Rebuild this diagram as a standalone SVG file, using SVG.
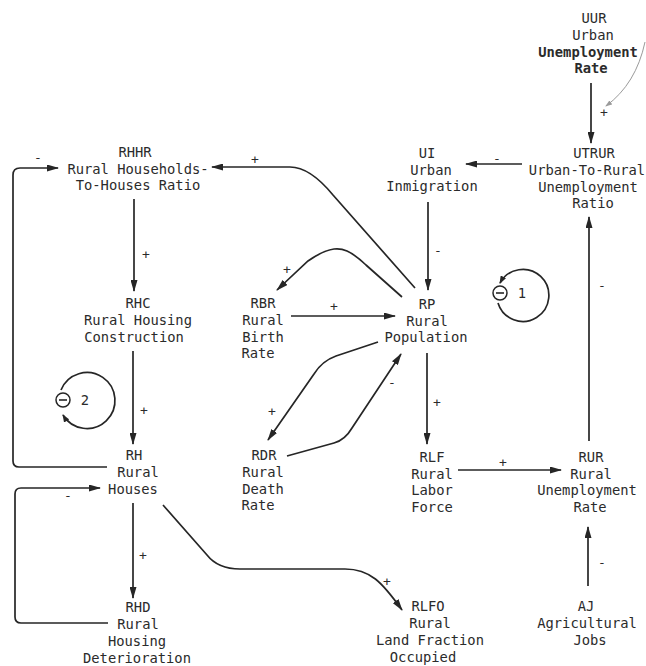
<svg xmlns="http://www.w3.org/2000/svg" width="646" height="666" viewBox="0 0 646 666">
<defs>
<style>
text{font-family:"DejaVu Sans Mono","Liberation Mono",monospace;font-size:13.8px;fill:#2b2b2b}
.lbl{font-size:13px}
.c{fill:none;stroke:#262626;stroke-width:1.7}
.g{fill:none;stroke:#9a9a9a;stroke-width:1}
.b{font-weight:bold}
</style>
<marker id="a" markerUnits="userSpaceOnUse" markerWidth="12" markerHeight="7" refX="11" refY="3.5" orient="auto"><path d="M0,0 L12,3.5 L0,7 z" fill="#262626"/></marker>
<marker id="s" markerUnits="userSpaceOnUse" markerWidth="8" markerHeight="6" refX="7" refY="3" orient="auto"><path d="M0,0 L8,3 L0,6 z" fill="#262626"/></marker>
<marker id="ga" markerUnits="userSpaceOnUse" markerWidth="7" markerHeight="5" refX="6" refY="2.5" orient="auto"><path d="M0,0 L7,2.5 L0,5 z" fill="#9a9a9a"/></marker>
</defs>
<rect width="646" height="666" fill="#ffffff"/>

<g id="connectors">
<path class="c" d="M591,83 L591,143" marker-end="url(#a)"/>
<path class="g" d="M645,42 Q636,84 606,106" marker-end="url(#ga)"/>
<path class="c" d="M522,164 L466,164" marker-end="url(#a)"/>
<path class="c" d="M428,202 L428,290" marker-end="url(#a)"/>
<path class="c" d="M415,288 L333,195 Q310,167 290,167 L212,167" marker-end="url(#a)"/>
<path class="c" d="M402,297 L366,265 C350,250 342,248 334,249 C326,250 318,254 308,261 L277,290" marker-end="url(#a)"/>
<path class="c" d="M291,316 L395,316" marker-end="url(#a)"/>
<path class="c" d="M378,342 L336,356 Q322,361 314,374 L268,440" marker-end="url(#a)"/>
<path class="c" d="M287,456 L334,443 Q345,440 352,428 L401,354" marker-end="url(#a)"/>
<path class="c" d="M427,353 L427,444" marker-end="url(#a)"/>
<path class="c" d="M458,470 L561,470" marker-end="url(#a)"/>
<path class="c" d="M588,586 L588,527" marker-end="url(#a)"/>
<path class="c" d="M589,441 L589,217" marker-end="url(#a)"/>
<path class="c" d="M134,199 L134,291" marker-end="url(#a)"/>
<path class="c" d="M133,351 L133,444" marker-end="url(#a)"/>
<path class="c" d="M107,467 L19,467 Q13,467 13,461 L13,175 Q13,168 20,168 L58,168" marker-end="url(#a)"/>
<path class="c" d="M108,623 L21,623 Q15,623 15,617 L15,494 Q15,488 21,488 L100,488" marker-end="url(#a)"/>
<path class="c" d="M133,503 L133,598" marker-end="url(#a)"/>
<path class="c" d="M163,505 L207,555 Q218,569 240,569 L345,569 C370,569 382,582 402,610" marker-end="url(#a)"/>
<text class="lbl" x="604" y="117" text-anchor="middle">+</text>
<text class="lbl" x="497" y="163" text-anchor="middle">-</text>
<text class="lbl" x="438" y="255" text-anchor="middle">-</text>
<text class="lbl" x="255" y="164" text-anchor="middle">+</text>
<text class="lbl" x="287" y="274" text-anchor="middle">+</text>
<text class="lbl" x="334" y="311" text-anchor="middle">+</text>
<text class="lbl" x="272" y="416" text-anchor="middle">+</text>
<text class="lbl" x="392" y="387" text-anchor="middle">-</text>
<text class="lbl" x="437" y="407" text-anchor="middle">+</text>
<text class="lbl" x="503" y="467" text-anchor="middle">+</text>
<text class="lbl" x="602" y="567" text-anchor="middle">-</text>
<text class="lbl" x="602" y="290" text-anchor="middle">-</text>
<text class="lbl" x="146" y="259" text-anchor="middle">+</text>
<text class="lbl" x="144" y="415" text-anchor="middle">+</text>
<text class="lbl" x="38" y="162" text-anchor="middle">-</text>
<text class="lbl" x="68" y="500" text-anchor="middle">-</text>
<text class="lbl" x="143" y="560" text-anchor="middle">+</text>
<text class="lbl" x="387" y="586" text-anchor="middle">+</text>
</g>

<g id="loop1">
<path class="c" d="M498,303 A26,26 0 1 0 500,283" marker-end="url(#s)"/>
<circle cx="500" cy="293" r="7" fill="#fff" stroke="#262626" stroke-width="1.5"/>
<line x1="496" y1="293" x2="504" y2="293" stroke="#262626" stroke-width="1.6"/>
<text x="522" y="298" text-anchor="middle">1</text>
</g>

<g id="loop2">
<path class="c" d="M61,390 A28,28 0 1 1 63,415" marker-end="url(#s)"/>
<circle cx="63" cy="400" r="7" fill="#fff" stroke="#262626" stroke-width="1.5"/>
<line x1="59" y1="400" x2="67" y2="400" stroke="#262626" stroke-width="1.6"/>
<text x="85" y="405" text-anchor="middle" fill="#555">2</text>
</g>

<g id="UUR" text-anchor="middle">
<text x="594" y="23">UUR</text>
<text x="593" y="40">Urban</text>
<text x="588" y="57" class="b">Unemployment</text>
<text x="591" y="73" class="b">Rate</text>
</g>
<g id="UTRUR" text-anchor="middle">
<text x="594" y="158">UTRUR</text>
<text x="587" y="175">Urban-To-Rural</text>
<text x="588" y="192">Unemployment</text>
<text x="593" y="208">Ratio</text>
</g>
<g id="UI" text-anchor="middle">
<text x="427" y="158">UI</text>
<text x="431" y="175">Urban</text>
<text x="432" y="191">Inmigration</text>
</g>
<g id="RHHR" text-anchor="middle">
<text x="135" y="157">RHHR</text>
<text x="138" y="174">Rural Households-</text>
<text x="138" y="190">To-Houses Ratio</text>
</g>
<g id="RHC" text-anchor="middle">
<text x="138" y="308">RHC</text>
<text x="138" y="325">Rural Housing</text>
<text x="134" y="342">Construction</text>
</g>
<g id="RBR" text-anchor="middle">
<text x="263" y="308">RBR</text>
<text x="263" y="325">Rural</text>
<text x="263" y="342">Birth</text>
<text x="258" y="358">Rate</text>
</g>
<g id="RP" text-anchor="middle">
<text x="427" y="309">RP</text>
<text x="427" y="326">Rural</text>
<text x="426" y="342">Population</text>
</g>
<g id="RDR" text-anchor="middle">
<text x="264" y="460">RDR</text>
<text x="263" y="477">Rural</text>
<text x="263" y="494">Death</text>
<text x="258" y="510">Rate</text>
</g>
<g id="RH" text-anchor="middle">
<text x="134" y="460">RH</text>
<text x="138" y="477">Rural</text>
<text x="133" y="494">Houses</text>
</g>
<g id="RHD" text-anchor="middle">
<text x="138" y="612">RHD</text>
<text x="138" y="629">Rural</text>
<text x="137" y="646">Housing</text>
<text x="137" y="663">Deterioration</text>
</g>
<g id="RLF" text-anchor="middle">
<text x="432" y="462">RLF</text>
<text x="432" y="479">Rural</text>
<text x="432" y="495">Labor</text>
<text x="432" y="512">Force</text>
</g>
<g id="RUR" text-anchor="middle">
<text x="591" y="462">RUR</text>
<text x="591" y="479">Rural</text>
<text x="587" y="495">Unemployment</text>
<text x="590" y="512">Rate</text>
</g>
<g id="RLFO" text-anchor="middle">
<text x="428" y="611">RLFO</text>
<text x="430" y="628">Rural</text>
<text x="430" y="645">Land Fraction</text>
<text x="423" y="662">Occupied</text>
</g>
<g id="AJ" text-anchor="middle">
<text x="586" y="611">AJ</text>
<text x="587" y="628">Agricultural</text>
<text x="590" y="645">Jobs</text>
</g>
</svg>
